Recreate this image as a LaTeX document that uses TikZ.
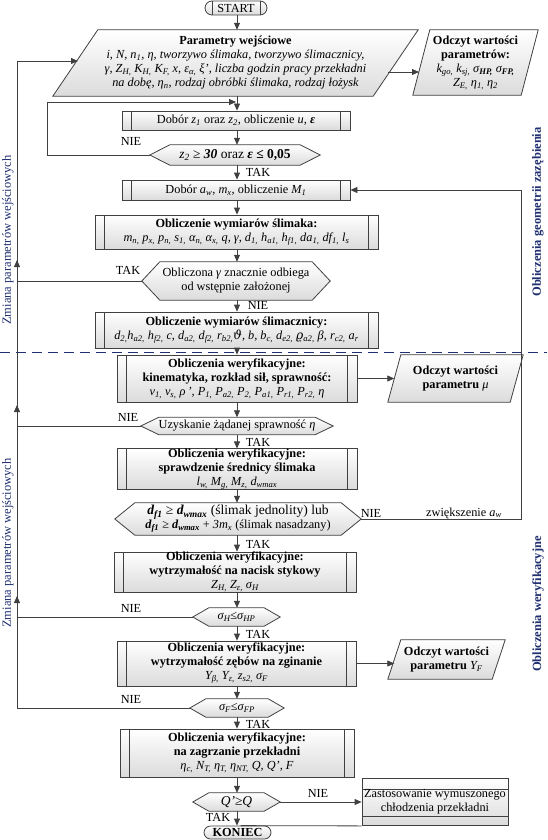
\documentclass[tikz,border=0pt]{standalone}
\usepackage{fontspec}
\setmainfont{Liberation Serif}
\newfontfamily\dvs{DejaVu Serif}
\usetikzlibrary{arrows.meta,backgrounds,shapes.misc,calc}
\definecolor{ln}{HTML}{404040}
\definecolor{navy}{HTML}{1F2F6F}
\newcommand\sbs[1]{\textsubscript{#1}}
\tikzset{
  base/.style={font=\fontsize{12.3}{14}\selectfont, align=center, inner sep=0pt},
  boxfill/.style={top color=white, bottom color=black!14, draw=ln, line width=0.8pt},
  subr/.style={base, rectangle, boxfill, path picture={\draw[ln, line width=0.8pt]
      ([xshift=9.5pt]path picture bounding box.north west) -- ([xshift=9.5pt]path picture bounding box.south west)
      ([xshift=-9.5pt]path picture bounding box.north east) -- ([xshift=-9.5pt]path picture bounding box.south east);}},
  pbox/.style={base, rectangle, boxfill, path picture={\draw[ln, line width=0.8pt]
      ([yshift=-11pt]path picture bounding box.north west) -- ([yshift=-11pt]path picture bounding box.north east)
      ([yshift=9pt]path picture bounding box.south west) -- ([yshift=9pt]path picture bounding box.south east);}},
  term/.style={base, rounded rectangle, boxfill},
  startlines/.style={path picture={\draw[ln, line width=0.8pt]
      ([xshift=7pt]path picture bounding box.north west) -- ([xshift=7pt]path picture bounding box.south west)
      ([xshift=-7pt]path picture bounding box.north east) -- ([xshift=-7pt]path picture bounding box.south east);}},
  conn/.style={draw=ln, line width=0.8pt},
  arr/.style={conn, -{Triangle[length=7pt,width=6pt]}},
  lbl/.style={font=\fontsize{12.3}{14}\selectfont, inner sep=0pt},
  rot/.style={font=\fontsize{12.5}{14}\selectfont, inner sep=0pt, text=navy, rotate=90},
}
\newcommand\dechex[7]{%
  \node[base, minimum width=#4pt, minimum height=#5pt] (#1) at (#2,#3) {#7};
  \begin{scope}[on background layer]
    \path[boxfill] (#1.west) -- ([xshift=#6pt]#1.north west) -- ([xshift=-#6pt]#1.north east)
      -- (#1.east) -- ([xshift=-#6pt]#1.south east) -- ([xshift=#6pt]#1.south west) -- cycle;
  \end{scope}}
\newcommand\para[7]{%
  \node[base, minimum width=#4pt, minimum height=#5pt] (#1) at (#2,#3) {#7};
  \begin{scope}[on background layer]
    \path[boxfill] ([xshift=#6pt]#1.north west) -- (#1.north east) -- ([xshift=-#6pt]#1.south east)
      -- (#1.south west) -- cycle;
  \end{scope}
  \coordinate (#1-l) at ($(#1.west)+(#6/2,0)$);
  \coordinate (#1-r) at ($(#1.east)-(#6/2,0)$);}
\begin{document}
\begin{tikzpicture}[x=1pt,y=-1pt]
\useasboundingbox (0,0) rectangle (547,840);
\coordinate (ax) at (237,0);
\coordinate (Lx) at (17,0);
\coordinate (Rx) at (521,0);

% ---------- nodes ----------
\node[term, minimum width=62pt, minimum height=14pt, startlines] (start) at (236,8) {START};

\para{par1}{235.5}{63}{365}{66}{45}{{\bfseries Parametry wejściowe}\\
  \itshape i, N, n\sbs{1}, η, tworzywo ślimaka, tworzywo ślimacznicy,\\
  \itshape γ, Z\sbs{H,} K\sbs{H,} K\sbs{F,} x, ε\sbs{α,} ξ', liczba godzin pracy przekładni\\
  \itshape na dobę, η\sbs{n}, rodzaj obróbki ślimaka, rodzaj łożysk}

\para{par2}{475.5}{62.5}{125}{65}{17}{\textbf{Odczyt wartości}\\\textbf{parametrów:}\\
  \itshape k\sbs{go,} k\sbs{sj,} σ\sbs{\bfseries HP,} σ\sbs{\bfseries FP,}\\
  \itshape Z\sbs{E,} η\sbs{1,} η\sbs{2}}

\node[subr, minimum width=228pt, minimum height=19pt] (sub1) at (236,120.5)
  {Dobór \textit{z\sbs{1}} oraz \textit{z\sbs{2}}, obliczenie \textit{u}, \textbf{\textit{ε}}};

\dechex{dec1}{235}{155}{170}{20}{20}{\fontsize{13.5}{15}\selectfont\textit{z\sbs{2}} ≥ \textbf{\textit{30}} oraz \textbf{\textit{ε}} \textbf{≤ 0,05}}

\node[subr, minimum width=228pt, minimum height=20pt] (sub2) at (236,190)
  {Dobór \textit{a\sbs{w}, m\sbs{x}}, obliczenie \textit{M\sbs{1}}};

\node[subr, minimum width=283pt, minimum height=34pt] (sub3) at (236.5,232)
  {\textbf{Obliczenie wymiarów ślimaka:}\\
   \textit{m\sbs{n,} p\sbs{x,} p\sbs{n,} s\sbs{1,} α\sbs{n,} α\sbs{x,} q, γ, d\sbs{1,} h\sbs{a1,} h\sbs{f1,} da\sbs{1,} df\sbs{1,} l\sbs{s}}};

\dechex{dec2}{236}{281}{188}{38}{18}{Obliczona \textit{γ} znacznie odbiega\\od wstępnie założonej}

\node[subr, minimum width=283pt, minimum height=36pt] (sub4) at (236.5,330)
  {\textbf{Obliczenie wymiarów ślimacznicy:}\\
   \textit{d\sbs{2,}h\sbs{a2,} h\sbs{f2,} c, d\sbs{a2,} d\sbs{f2,} r\sbs{b2,}{\dvs ϑ}, b, b\sbs{c,} d\sbs{e2,} {\dvs ϱ}\sbs{a2,} β, r\sbs{c2,} a\sbs{r}}};

\node[subr, minimum width=240pt, minimum height=47pt] (sub5) at (237,378.5)
  {\textbf{Obliczenia weryfikacyjne:}\\
   \textbf{kinematyka, rozkład sił, sprawność:}\\
   \textit{v\sbs{1,} v\sbs{s,} ρ\,', P\sbs{1,} P\sbs{a2,} P\sbs{2,} P\sbs{a1,} P\sbs{r1,} P\sbs{r2,} η}};

\para{par3}{455.5}{378.5}{135}{47}{13}{\textbf{Odczyt wartości}\\\textbf{parametru} \textit{μ}}

\dechex{dec3}{237}{426}{192}{17}{18}{Uzyskanie żądanej sprawność \textit{η}}

\node[subr, minimum width=240pt, minimum height=40pt] (sub6) at (237,469)
  {\textbf{Obliczenia weryfikacyjne:}\\
   \textbf{sprawdzenie średnicy ślimaka}\\
   \textit{l\sbs{w,} M\sbs{g,} M\sbs{z,} d\sbs{wmax}}};

\dechex{dec4}{238}{519}{246}{32}{20}{\fontsize{13.6}{15}\selectfont
  \textbf{\textit{d\sbs{f1}}} ≥ \textbf{\textit{d\sbs{wmax}}} (ślimak jednolity) lub\\
  \textbf{\textit{d\sbs{f1}}} ≥ \textbf{\textit{d\sbs{wmax}}} + \textit{3m\sbs{x}} (ślimak nasadzany)}

\node[subr, minimum width=242pt, minimum height=40pt] (sub7) at (235,572)
  {\textbf{Obliczenia weryfikacyjne:}\\
   \textbf{wytrzymałość na nacisk stykowy}\\
   \textit{Z\sbs{H,} Z\sbs{ε,} σ\sbs{H}}};

\dechex{dec5}{236.5}{617}{87}{18}{16}{\textit{σ\sbs{H}}≤\textit{σ\sbs{HP}}}

\node[subr, minimum width=239pt, minimum height=45pt] (sub8) at (236.5,663.5)
  {\textbf{Obliczenia weryfikacyjne:}\\
   \textbf{wytrzymałość zębów na zginanie}\\
   \textit{Y\sbs{β,} Y\sbs{ε,} z\sbs{s2,} σ\sbs{F}}};

\para{par4}{446.5}{659.5}{117}{39}{13}{\textbf{Odczyt wartości}\\\textbf{parametru} \textit{Y\sbs{F}}}

\dechex{dec6}{237}{708}{94}{18}{16}{\textit{σ\sbs{F}}≤\textit{σ\sbs{FP}}}

\node[subr, minimum width=234pt, minimum height=48pt] (sub9) at (237,753)
  {\textbf{Obliczenia weryfikacyjne:}\\
   \textbf{na zagrzanie przekładni}\\
   \textit{η\sbs{c,} N\sbs{T,} η\sbs{T,} η\sbs{NT,} Q, Q', F}};

\dechex{dec7}{236.5}{802}{87}{18}{16}{\fontsize{13.5}{15}\selectfont\textit{Q'}≥\textit{Q}}

\node[pbox, minimum width=146pt, minimum height=47pt] (box10) at (435,802)
  {Zastosowanie wymuszonego\\chłodzenia przekładni};

\node[term, minimum width=67pt, minimum height=13pt, font=\fontsize{12.3}{14}\selectfont\bfseries] (konec) at (237.5,832.5) {KONIEC};

% ---------- labels ----------
\node[lbl] (nie1) at (131,141) {NIE};
\node[lbl] (tak1) at (258,172) {TAK};
\node[lbl] (tak2) at (128,270) {TAK};
\node[lbl] (nie2) at (258,305) {NIE};
\node[lbl] (nie3) at (128,417) {NIE};
\node[lbl] (tak3) at (258,442) {TAK};
\node[lbl] (nie4) at (371,513) {NIE};
\node[lbl] (zw) at (464,513) {zwiększenie \textit{a\sbs{w}}};
\node[lbl] (tak4) at (258,544) {TAK};
\node[lbl] (nie5) at (131,608) {NIE};
\node[lbl] (tak5) at (258,634) {TAK};
\node[lbl] (nie6) at (131,699) {NIE};
\node[lbl] (tak6) at (258,724) {TAK};
\node[lbl] (nie7) at (318,793) {NIE};
\node[lbl] (tak7) at (218,817) {TAK};

\node[rot, font=\fontsize{12.5}{14}\selectfont\bfseries] (g1) at (538,212) {Obliczenia geometrii zazębienia};
\node[rot, font=\fontsize{12.5}{14}\selectfont\bfseries] (g2) at (538,604) {Obliczenia weryfikacyjne};
\node[rot] (zp1) at (8,240) {Zmiana parametrów wejściowych};
\node[rot] (zp2) at (8,543) {Zmiana parametrów wejściowych};

% ---------- dashed separator ----------
\coordinate (dl) at (0,352);
\coordinate (dr) at (547,352);
\draw[navy, line width=0.8pt, dash pattern=on 10pt off 6pt] (dl) -- (dr);

% ---------- main flow ----------
\draw[arr] (ax |- start.south) -- (ax |- par1.north);
\draw[arr] (ax |- par1.south) -- (ax |- sub1.north);
\draw[arr] (ax |- sub1.south) -- (ax |- dec1.north);
\draw[arr] (ax |- dec1.south) -- (ax |- sub2.north);
\draw[arr] (ax |- sub2.south) -- (ax |- sub3.north);
\draw[arr] (ax |- sub3.south) -- (ax |- dec2.north);
\draw[arr] (ax |- dec2.south) -- (ax |- sub4.north);
\draw[arr] (ax |- sub4.south) -- (ax |- sub5.north);
\draw[arr] (ax |- sub5.south) -- (ax |- dec3.north);
\draw[arr] (ax |- dec3.south) -- (ax |- sub6.north);
\draw[arr] (ax |- sub6.south) -- (ax |- dec4.north);
\draw[arr] (ax |- dec4.south) -- (ax |- sub7.north);
\draw[arr] (ax |- sub7.south) -- (ax |- dec5.north);
\draw[arr] (ax |- dec5.south) -- (ax |- sub8.north);
\draw[arr] (ax |- sub8.south) -- (ax |- dec6.north);
\draw[arr] (ax |- dec6.south) -- (ax |- sub9.north);
\draw[arr] (ax |- sub9.south) -- (ax |- dec7.north);
\draw[arr] (ax |- dec7.south) -- (ax |- konec.north);

% side outputs
\coordinate (p1o) at (388,72);
\coordinate (p2i) at (419,72);
\draw[arr] (p1o) -- (p2i);
\draw[arr] (sub5.east) -- (sub5.east -| par3-l);
\draw[arr] (sub8.east) -- (sub8.east -| par4-l);
\draw[arr] (dec7.east) -- (box10.west);
\draw[conn] (box10.south west) -- ([xshift=3pt]konec.north);

% inner loop (z2 check)
\coordinate (lx1) at (47,102);
\coordinate (j1) at (236,102);
\draw[arr] (dec1.west) -| (lx1) -- (j1);

% right loop (increase a_w)
\draw[arr] (dec4.east) -| (Rx |- sub2.east) -- (sub2.east);

% big left loop (change input parameters)
\coordinate (Ltop) at (17,61);
\coordinate (ptip) at (78,61);
\draw[arr] (dec6.west) -| (Ltop) -- (ptip);
\draw[conn] (dec2.west) -- (dec2.west -| Lx);
\draw[conn] (dec3.west) -- (dec3.west -| Lx);
\draw[conn] (dec5.west) -- (dec5.west -| Lx);
\draw[arr] ($(dec2.west -| Lx)+(0,-10)$) -- ($(dec2.west -| Lx)+(0,-21)$);
\draw[arr] ($(dec3.west -| Lx)+(0,-10)$) -- ($(dec3.west -| Lx)+(0,-21)$);
\draw[arr] ($(dec5.west -| Lx)+(0,-10)$) -- ($(dec5.west -| Lx)+(0,-21)$);
\end{tikzpicture}
\end{document}
